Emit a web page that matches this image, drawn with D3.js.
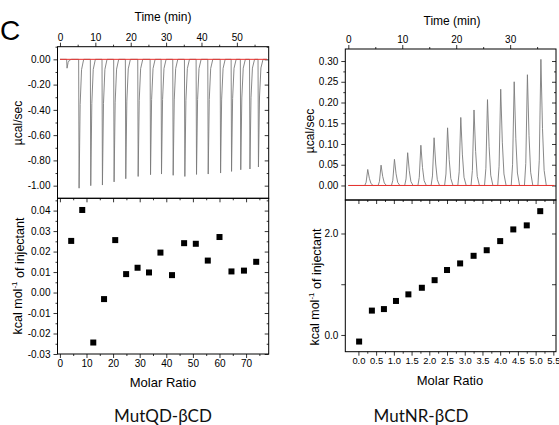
<!DOCTYPE html>
<html>
<head>
<meta charset="utf-8">
<script src="https://cdn.jsdelivr.net/npm/d3@7"></script>
<style>
  html, body { margin: 0; padding: 0; background: #fff; }
  svg { display: block; }
  .tick text { font-family: "Liberation Sans", Arial, sans-serif; font-size: 10px; fill: #000; }
  .tick line { stroke: #000; stroke-width: 0.8; }
  .small .tick text { font-size: 9.4px; }
</style>
</head>
<body>
<svg id="chart" width="559" height="425"></svg>
<script>
// ---------------- DATA ----------------
// MutQD-βCD raw thermogram: injection (peak) times in min and peak heights in µcal/sec
const qdPeakTime   = [2.0, 5.4, 8.7, 12.0, 15.3, 18.6, 22.1, 25.6, 28.7, 32.0, 35.3, 38.6, 41.9, 45.4, 48.5, 51.1, 53.7, 56.1];
const qdPeakHeight = [-0.07, -1.02, -1.00, -0.995, -0.97, -0.945, -0.927, -0.913, -0.908, -0.918, -0.927, -0.911, -0.908, -0.90, -0.887, -0.874, -0.868, -0.852];
// MutQD-βCD integrated heats
const qdRatio = [4.25, 8.4, 12.55, 16.6, 20.8, 24.9, 29.2, 33.5, 37.8, 42.15, 46.7, 51.1, 55.6, 60.0, 64.5, 69.2, 73.8];
const qdHeat  = [0.0252, 0.0403, -0.0244, -0.0032, 0.0256, 0.0090, 0.0121, 0.0098, 0.0195, 0.0085, 0.0241, 0.0238, 0.0156, 0.0271, 0.0103, 0.0107, 0.0150];

// MutNR-βCD raw thermogram
const nrPeakTime   = [3.6, 6.07, 8.55, 11.0, 13.45, 15.9, 18.4, 20.85, 23.3, 25.8, 28.25, 30.75, 33.2, 35.7];
const nrPeakHeight = [0.0386, 0.049, 0.063, 0.079, 0.097, 0.115, 0.139, 0.164, 0.182, 0.207, 0.232, 0.250, 0.267, 0.304];
// MutNR-βCD integrated heats
const nrRatio = [0.02, 0.38, 0.72, 1.06, 1.41, 1.79, 2.15, 2.50, 2.87, 3.25, 3.62, 4.00, 4.37, 4.75, 5.13];
const nrHeat  = [-0.13, 0.48, 0.51, 0.67, 0.80, 0.93, 1.08, 1.28, 1.41, 1.56, 1.67, 1.85, 2.08, 2.16, 2.44];

// tick values
const qdTimeTicks = [0, 10, 20, 30, 40, 50];
const qdTimeMinor = [5, 15, 25, 35, 45, 55];
const qdPowerTicks = [0, -0.2, -0.4, -0.6, -0.8, -1.0];
const qdPowerMinor = [0.1, -0.1, -0.3, -0.5, -0.7, -0.9];
const qdRatioTicks = [0, 10, 20, 30, 40, 50, 60, 70];
const qdRatioMinor = [5, 15, 25, 35, 45, 55, 65, 75];
const qdHeatTicks = [-0.03, -0.02, -0.01, 0, 0.01, 0.02, 0.03, 0.04];
const qdHeatMinor = [-0.025, -0.015, -0.005, 0.005, 0.015, 0.025, 0.035, 0.045];

const nrTimeTicks = [0, 10, 20, 30];
const nrTimeMinor = [5, 15, 25, 35];
const nrPowerTicks = [0, 0.05, 0.10, 0.15, 0.20, 0.25, 0.30];
const nrPowerMinor = [0.025, 0.075, 0.125, 0.175, 0.225, 0.275];
const nrRatioTicks = [0, 0.5, 1.0, 1.5, 2.0, 2.5, 3.0, 3.5, 4.0, 4.5, 5.0, 5.5];
const nrRatioMinor = [0.25, 0.75, 1.25, 1.75, 2.25, 2.75, 3.25, 3.75, 4.25, 4.75, 5.25];
const nrHeatTicks = [0, 1, 2];
const nrHeatLabelled = [0, 2];

const captions = ["MutQD-\u03B2CD", "MutNR-\u03B2CD"];

// ---------------- DRAWING ----------------
const svg = d3.select("#chart");
const FONT = '"Liberation Sans", Arial, sans-serif';

function addAxis(g, axis, x, y, cls) {
  const a = g.append("g").attr("transform", `translate(${x},${y})`).call(axis);
  if (cls) a.attr("class", cls);
  a.select(".domain").remove();
  return a;
}

function panel(opts) {
  const g = svg.append("g");
  const x = d3.scaleLinear().domain(opts.xDomain).range([opts.left, opts.right]);
  const y = d3.scaleLinear().domain(opts.yDomain).range([opts.bottom, opts.top]);
  const fmtX = opts.fmtX, fmtY = opts.fmtY;

  if (opts.xSide === "top") {
    addAxis(g, d3.axisTop(x).tickValues(opts.xTicks).tickSize(4).tickPadding(2).tickFormat(fmtX), 0, opts.top);
    addAxis(g, d3.axisTop(x).tickValues(opts.xMinor).tickSize(2).tickFormat(""), 0, opts.top);
  } else {
    addAxis(g, d3.axisBottom(x).tickValues(opts.xTicks).tickSize(4).tickPadding(2).tickFormat(fmtX), 0, opts.bottom, opts.xClass);
    addAxis(g, d3.axisBottom(x).tickValues(opts.xMinor).tickSize(2).tickFormat(""), 0, opts.bottom);
    addAxis(g, d3.axisBottom(x).tickValues(opts.xTicks).tickSize(4).tickFormat(""), 0, opts.top);
    addAxis(g, d3.axisBottom(x).tickValues(opts.xMinor).tickSize(2).tickFormat(""), 0, opts.top);
  }
  addAxis(g, d3.axisLeft(y).tickValues(opts.yTicks).tickSize(4).tickPadding(3).tickFormat(fmtY), opts.left, 0);
  if (opts.yMinor) addAxis(g, d3.axisLeft(y).tickValues(opts.yMinor).tickSize(2).tickFormat(""), opts.left, 0);
  addAxis(g, d3.axisLeft(y).tickValues(opts.yTicks).tickSize(4).tickFormat(""), opts.right, 0);
  if (opts.yMinor) addAxis(g, d3.axisLeft(y).tickValues(opts.yMinor).tickSize(2).tickFormat(""), opts.right, 0);

  g.append("rect")
    .attr("x", opts.left).attr("y", opts.top)
    .attr("width", opts.right - opts.left).attr("height", opts.bottom - opts.top)
    .attr("fill", "none").attr("stroke", "#000").attr("stroke-width", 1);

  return { g, x, y };
}

function traceFromPeaks(times, heights, shape, t0, t1) {
  const pts = [[t0, 0]];
  times.forEach((t, i) => {
    shape.forEach(s => pts.push([t + s[0], heights[i] * s[1]]));
  });
  pts.push([t1, 0]);
  return pts;
}

function yTitle(cx, cy, size) {
  return svg.append("text")
    .attr("transform", `translate(${cx},${cy}) rotate(-90)`)
    .attr("text-anchor", "middle")
    .attr("dominant-baseline", "central")
    .style("font-family", FONT).style("font-size", size + "px").attr("fill", "#000");
}

function hTitle(text, cx, cy, size) {
  svg.append("text").attr("x", cx).attr("y", cy)
    .attr("text-anchor", "middle").attr("dominant-baseline", "central")
    .style("font-family", FONT).style("font-size", size + "px").attr("fill", "#000")
    .text(text);
}

const f2 = d => d.toFixed(2);
const f1 = d => d.toFixed(1);
const fi = d => String(d);

// ---- Left: MutQD-βCD ----
const qdTop = panel({
  left: 57.5, right: 268.7, top: 46.7, bottom: 198.3,
  xDomain: [-0.7, 59], yDomain: [-1.1, 0.1],
  xSide: "top", xTicks: qdTimeTicks, xMinor: qdTimeMinor, fmtX: fi,
  yTicks: qdPowerTicks, yMinor: qdPowerMinor, fmtY: f2
});
const qdShape = [[-0.12, 0], [0.0, 1], [0.3, 0.35], [0.7, 0.08], [1.3, 0]];
const qdTrace = traceFromPeaks(qdPeakTime, qdPeakHeight, qdShape, 0, 58.5);
const lineQD = d3.line().x(d => qdTop.x(d[0])).y(d => qdTop.y(d[1]));
qdTop.g.append("path").datum(qdTrace).attr("d", lineQD)
  .attr("fill", "none").attr("stroke", "#7a7a7a").attr("stroke-width", 0.9);
qdTop.g.append("line")
  .attr("x1", qdTop.x(0)).attr("x2", qdTop.x(58.5))
  .attr("y1", qdTop.y(0)).attr("y2", qdTop.y(0))
  .attr("stroke", "#e8322e").attr("stroke-width", 1);

const qdBot = panel({
  left: 57.5, right: 268.7, top: 198.3, bottom: 354,
  xDomain: [-0.9, 78.5], yDomain: [-0.03, 0.046],
  xSide: "bottom", xTicks: qdRatioTicks, xMinor: qdRatioMinor, fmtX: fi,
  yTicks: qdHeatTicks, yMinor: qdHeatMinor, fmtY: f2
});
qdBot.g.selectAll("rect.pt").data(qdRatio).join("rect").attr("class", "pt")
  .attr("x", (d) => qdBot.x(d) - 3).attr("y", (d, i) => qdBot.y(qdHeat[i]) - 3)
  .attr("width", 6).attr("height", 6).attr("fill", "#000");

// ---- Right: MutNR-βCD ----
const nrTop = panel({
  left: 345.3, right: 556, top: 49, bottom: 200,
  xDomain: [-0.56, 38.5], yDomain: [-0.035, 0.329],
  xSide: "top", xTicks: nrTimeTicks, xMinor: nrTimeMinor, fmtX: fi,
  yTicks: nrPowerTicks, yMinor: nrPowerMinor, fmtY: f2
});
const nrShape = [[-0.55, 0], [-0.3, 0.2], [0.0, 1], [0.3, 0.45], [0.6, 0.12], [1.0, 0]];
const nrTrace = traceFromPeaks(nrPeakTime, nrPeakHeight, nrShape, 0, 38.2);
const lineNR = d3.line().x(d => nrTop.x(d[0])).y(d => nrTop.y(d[1]));
nrTop.g.append("path").datum(nrTrace).attr("d", lineNR)
  .attr("fill", "none").attr("stroke", "#7a7a7a").attr("stroke-width", 0.9);
nrTop.g.append("line")
  .attr("x1", nrTop.x(0)).attr("x2", nrTop.x(38.2))
  .attr("y1", nrTop.y(0)).attr("y2", nrTop.y(0))
  .attr("stroke", "#e8322e").attr("stroke-width", 1);

const nrBot = panel({
  left: 345.3, right: 556, top: 200, bottom: 351.7,
  xDomain: [-0.37, 5.575], yDomain: [-0.33, 2.66],
  xSide: "bottom", xTicks: nrRatioTicks, xMinor: nrRatioMinor, fmtX: f1, xClass: "small",
  yTicks: nrHeatTicks, yMinor: null, fmtY: d => nrHeatLabelled.includes(d) ? f1(d) : ""
});
nrBot.g.selectAll("rect.pt").data(nrRatio).join("rect").attr("class", "pt")
  .attr("x", (d) => nrBot.x(d) - 3).attr("y", (d, i) => nrBot.y(nrHeat[i]) - 3)
  .attr("width", 6).attr("height", 6).attr("fill", "#000");

// ---- Titles ----
hTitle("Time (min)", 163, 17, 12);
hTitle("Time (min)", 452, 20.5, 12);
hTitle("Molar Ratio", 163, 382, 13);
hTitle("Molar Ratio", 450, 380.5, 13);

yTitle(18, 123, 12).text("\u00B5cal/sec");
yTitle(310, 131, 12).text("\u00B5cal/sec");

function kcalTitle(cx, cy) {
  const t = yTitle(cx, cy, 12.5);
  t.append("tspan").text("kcal mol");
  t.append("tspan").attr("dy", "-0.45em").style("font-size", "8px").text("-1");
  t.append("tspan").attr("dy", "0.45em").text(" of injectant");
}
kcalTitle(18, 276);
kcalTitle(315, 287);

// panel letter
svg.append("text").attr("x", 0).attr("y", 40)
  .style("font-family", FONT).style("font-size", "28px").attr("fill", "#000").text("C");

// captions
svg.append("text").attr("x", 163).attr("y", 422).attr("text-anchor", "middle")
  .style("font-family", "Lato, 'Open Sans', sans-serif").style("font-size", "17px").attr("fill", "#111")
  .text(captions[0]);
svg.append("text").attr("x", 421).attr("y", 422).attr("text-anchor", "middle")
  .style("font-family", "Lato, 'Open Sans', sans-serif").style("font-size", "17px").attr("fill", "#111")
  .text(captions[1]);
</script>
</body>
</html>
